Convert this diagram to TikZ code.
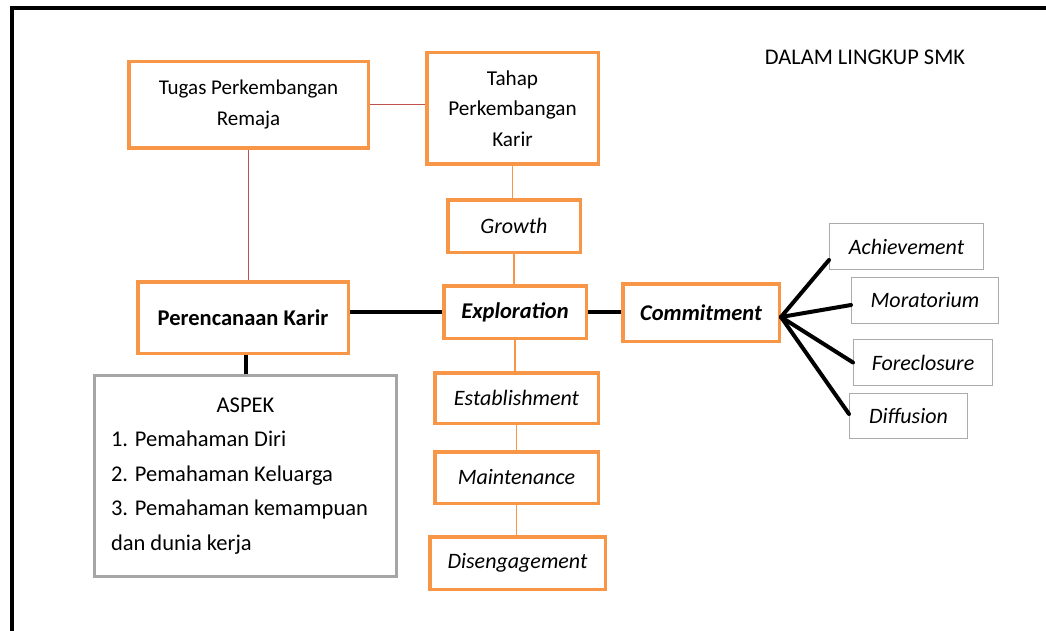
\documentclass[tikz,border=0pt]{standalone}
\usepackage{fontspec}
\setmainfont{Carlito}
\definecolor{orangeC}{HTML}{F79646}
\definecolor{grayC}{HTML}{A6A6A6}
\definecolor{grayL}{HTML}{ABABAB}
\definecolor{redC}{HTML}{C0504D}
\newcommand\fsreg{\fontsize{21}{31}\selectfont}
\newcommand\fsit{\fontsize{22}{31}\selectfont\itshape}
\newcommand\fsbf{\fontsize{22.5}{31}\selectfont\bfseries}
\begin{document}
\begin{tikzpicture}[x=1pt,y=-1pt,
  obox/.style={draw=orangeC, line width=3.5pt, inner sep=0pt, align=center, font=\fsreg, fill=white},
  gbox/.style={draw=grayL, line width=1pt, inner sep=0pt, align=center, font=\fsit, fill=white},
  blk/.style={draw=black, line width=4pt},
  redl/.style={draw=redC, line width=1pt},
  orl/.style={draw=orangeC, line width=1.3pt}]
\useasboundingbox (0,0) rectangle (1046,631);
% frame
\draw[line width=3.5pt] (1046,8) -- (12,8) -- (12,631);
% nodes
\node[obox, minimum width=239.5pt, minimum height=86.5pt] (tugas) at (248.5,105) {Tugas Perkembangan\\Remaja};
\node[obox, minimum width=171.5pt, minimum height=111.5pt, font=\fontsize{21.2}{30.5}\selectfont] (tahap) at (512.5,108.5) {Tahap\\Perkembangan\\Karir};
\node[obox, minimum width=132.5pt, minimum height=52.5pt, font=\fsit] (growth) at (514,226) {Growth};
\node[obox, minimum width=142.5pt, minimum height=52.5pt, font=\fsbf\itshape] (explor) at (515,312) {Exploration};
\node[obox, minimum width=156.5pt, minimum height=57.5pt, font=\fsbf\itshape] (commit) at (701,312.5) {Commitment};
\node[obox, minimum width=210.5pt, minimum height=71.5pt, font=\fsbf] (perenc) at (243,317.5) {Perencanaan Karir};
\node[draw=grayC, line width=3pt, inner sep=0pt, minimum width=302pt, minimum height=201pt, text width=269pt, align=flush left, font=\fontsize{22.5}{34.5}\selectfont] (aspek) at (245.5,476)
  {\makebox[269pt]{ASPEK}\\1. Pemahaman Diri\\2. Pemahaman Keluarga\\3. Pemahaman kemampuan\\dan dunia kerja};
\node[obox, minimum width=163.5pt, minimum height=50.5pt, font=\fsit] (estab) at (516.5,398) {Establishment};
\node[obox, minimum width=163.5pt, minimum height=51.5pt, font=\fsit] (maint) at (516.5,477.5) {Maintenance};
\node[obox, minimum width=175.5pt, minimum height=52.5pt, font=\fsit] (diseng) at (517.5,563) {Disengagement};
\node[gbox, minimum width=154pt, minimum height=46pt] (ach) at (906.5,246.5) {Achievement};
\node[gbox, minimum width=147pt, minimum height=46pt] (mor) at (925,300.5) {Moratorium};
\node[gbox, minimum width=139pt, minimum height=46pt] (fore) at (923,362.5) {Foreclosure};
\node[gbox, minimum width=118pt, minimum height=45pt] (diff) at (908.5,416) {Diffusion};
\node[font=\fontsize{22.4}{30}\selectfont] (title) at (865,57) {DALAM LINGKUP SMK};
% connectors
\draw[redl] (tugas.east) -- (tugas.east -| tahap.west);
\draw[redl] (tugas.south) -- (tugas.south |- perenc.north);
\draw[orl] (tahap.south) -- (tahap.south |- growth.north);
\draw[orl] (growth.south) -- (growth.south |- explor.north);
\draw[orl] (explor.south) -- (explor.south |- estab.north);
\draw[orl] (estab.south) -- (estab.south |- maint.north);
\draw[orl] (maint.south) -- (maint.south |- diseng.north);
\draw[blk] (perenc.east |- explor.west) -- (explor.west);
\draw[blk] (explor.east) -- (explor.east -| commit.west);
\draw[blk] (aspek.north |- perenc.south) -- (aspek.north);
\coordinate (fan) at ([yshift=-4.5pt]commit.east);
\draw[blk, line cap=round] (fan) -- ([yshift=-13.5pt]ach.west);
\draw[blk, line cap=round] (fan) -- ([yshift=-4.5pt]mor.west);
\draw[blk, line cap=round] (fan) -- (fore.west);
\draw[blk, line cap=round] (fan) -- ([yshift=2pt]diff.west);
\end{tikzpicture}
\end{document}
